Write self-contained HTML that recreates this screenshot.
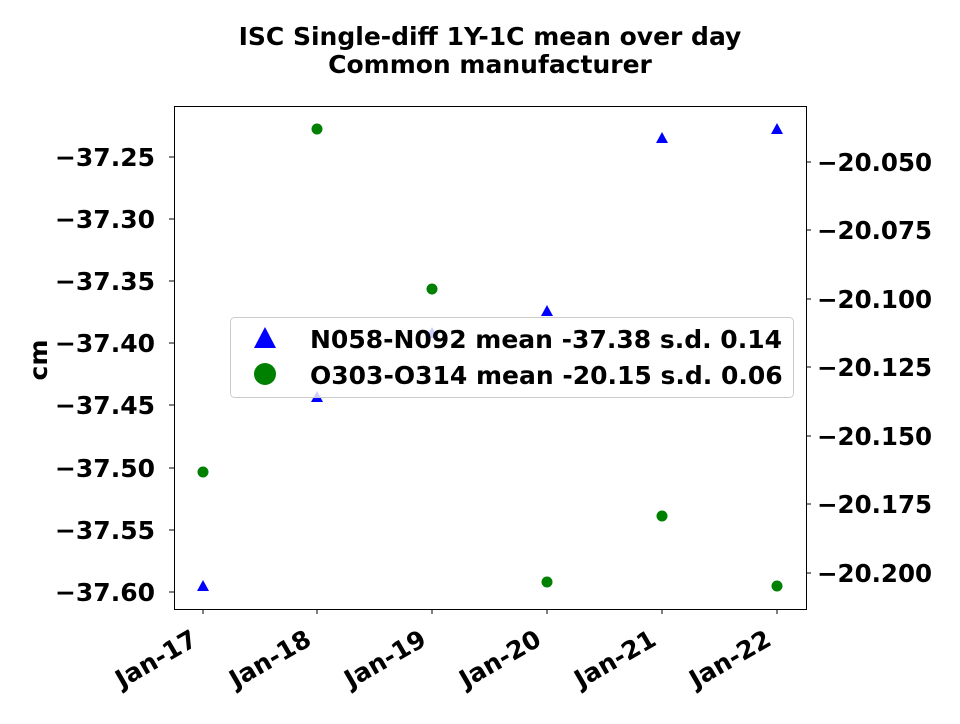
<!DOCTYPE html>
<html><head><meta charset="utf-8"><style>body{margin:0;background:#fff}</style></head><body>
<svg width="960" height="719" xmlns="http://www.w3.org/2000/svg" font-family="DejaVu Sans, sans-serif" font-weight="bold">
<rect width="960" height="719" fill="#fff"/>
<text x="490" y="45" font-size="25" text-anchor="middle">ISC Single-diff 1Y-1C mean over day</text>
<text x="490" y="73" font-size="25" text-anchor="middle">Common manufacturer</text>
<rect x="174.5" y="106.5" width="632" height="503" fill="none" stroke="#000" stroke-width="1"/>
<g font-size="25" text-anchor="end">
<g stroke="#000"><line x1="169" x2="174" y1="157" y2="157"/><line x1="169" x2="174" y1="219" y2="219"/><line x1="169" x2="174" y1="281" y2="281"/><line x1="169" x2="174" y1="343" y2="343"/><line x1="169" x2="174" y1="405" y2="405"/><line x1="169" x2="174" y1="468" y2="468"/><line x1="169" x2="174" y1="530" y2="530"/><line x1="169" x2="174" y1="592" y2="592"/></g>
<text x="155" y="166">−37.25</text><text x="155" y="228">−37.30</text><text x="155" y="290">−37.35</text><text x="155" y="352">−37.40</text><text x="155" y="414">−37.45</text><text x="155" y="477">−37.50</text><text x="155" y="539">−37.55</text><text x="155" y="601">−37.60</text>
</g>
<g font-size="24.5">
<g stroke="#000"><line x1="806" x2="811" y1="162" y2="162"/><line x1="806" x2="811" y1="230" y2="230"/><line x1="806" x2="811" y1="299" y2="299"/><line x1="806" x2="811" y1="367" y2="367"/><line x1="806" x2="811" y1="436" y2="436"/><line x1="806" x2="811" y1="504" y2="504"/><line x1="806" x2="811" y1="573" y2="573"/></g>
<text x="817" y="171">−20.050</text><text x="817" y="239">−20.075</text><text x="817" y="308">−20.100</text><text x="817" y="376">−20.125</text><text x="817" y="445">−20.150</text><text x="817" y="513">−20.175</text><text x="817" y="582">−20.200</text>
</g>
<text transform="translate(47,360) rotate(-90)" font-size="25" text-anchor="middle">cm</text>
<g stroke="#000"><line x1="203" x2="203" y1="609" y2="614"/><line x1="317" x2="317" y1="609" y2="614"/><line x1="432" x2="432" y1="609" y2="614"/><line x1="547" x2="547" y1="609" y2="614"/><line x1="662" x2="662" y1="609" y2="614"/><line x1="777" x2="777" y1="609" y2="614"/></g>
<g font-size="25" text-anchor="end">
<text transform="translate(199,644) rotate(-30)">Jan-17</text>
<text transform="translate(313,644) rotate(-30)">Jan-18</text>
<text transform="translate(428,644) rotate(-30)">Jan-19</text>
<text transform="translate(543,644) rotate(-30)">Jan-20</text>
<text transform="translate(658,644) rotate(-30)">Jan-21</text>
<text transform="translate(773,644) rotate(-30)">Jan-22</text>
</g>
<g fill="#0000ff">
<polygon points="203,580 209,591 197,591"/>
<polygon points="317,391 323,402 311,402"/>
<polygon points="432,327 438,338 426,338"/>
<polygon points="547,305 553,316 541,316"/>
<polygon points="662,132 668,143 656,143"/>
<polygon points="777,123 783,134 771,134"/>
</g>
<g fill="#008000">
<circle cx="203" cy="472" r="5.5"/><circle cx="317" cy="129" r="5.5"/><circle cx="432" cy="289" r="5.5"/><circle cx="547" cy="582" r="5.5"/><circle cx="662" cy="516" r="5.5"/><circle cx="777" cy="586" r="5.5"/>
</g>
<rect x="230.5" y="317.5" width="563" height="80" rx="4" fill="#fff" fill-opacity="0.8" stroke="#ccc"/>
<polygon points="265,327 276,348 254,348" fill="#0000ff"/>
<circle cx="265" cy="374" r="11" fill="#008000"/>
<text x="310" y="348" font-size="25">N058-N092 mean -37.38 s.d. 0.14</text>
<text x="310" y="384" font-size="25">O303-O314 mean -20.15 s.d. 0.06</text>
</svg>
</body></html>
